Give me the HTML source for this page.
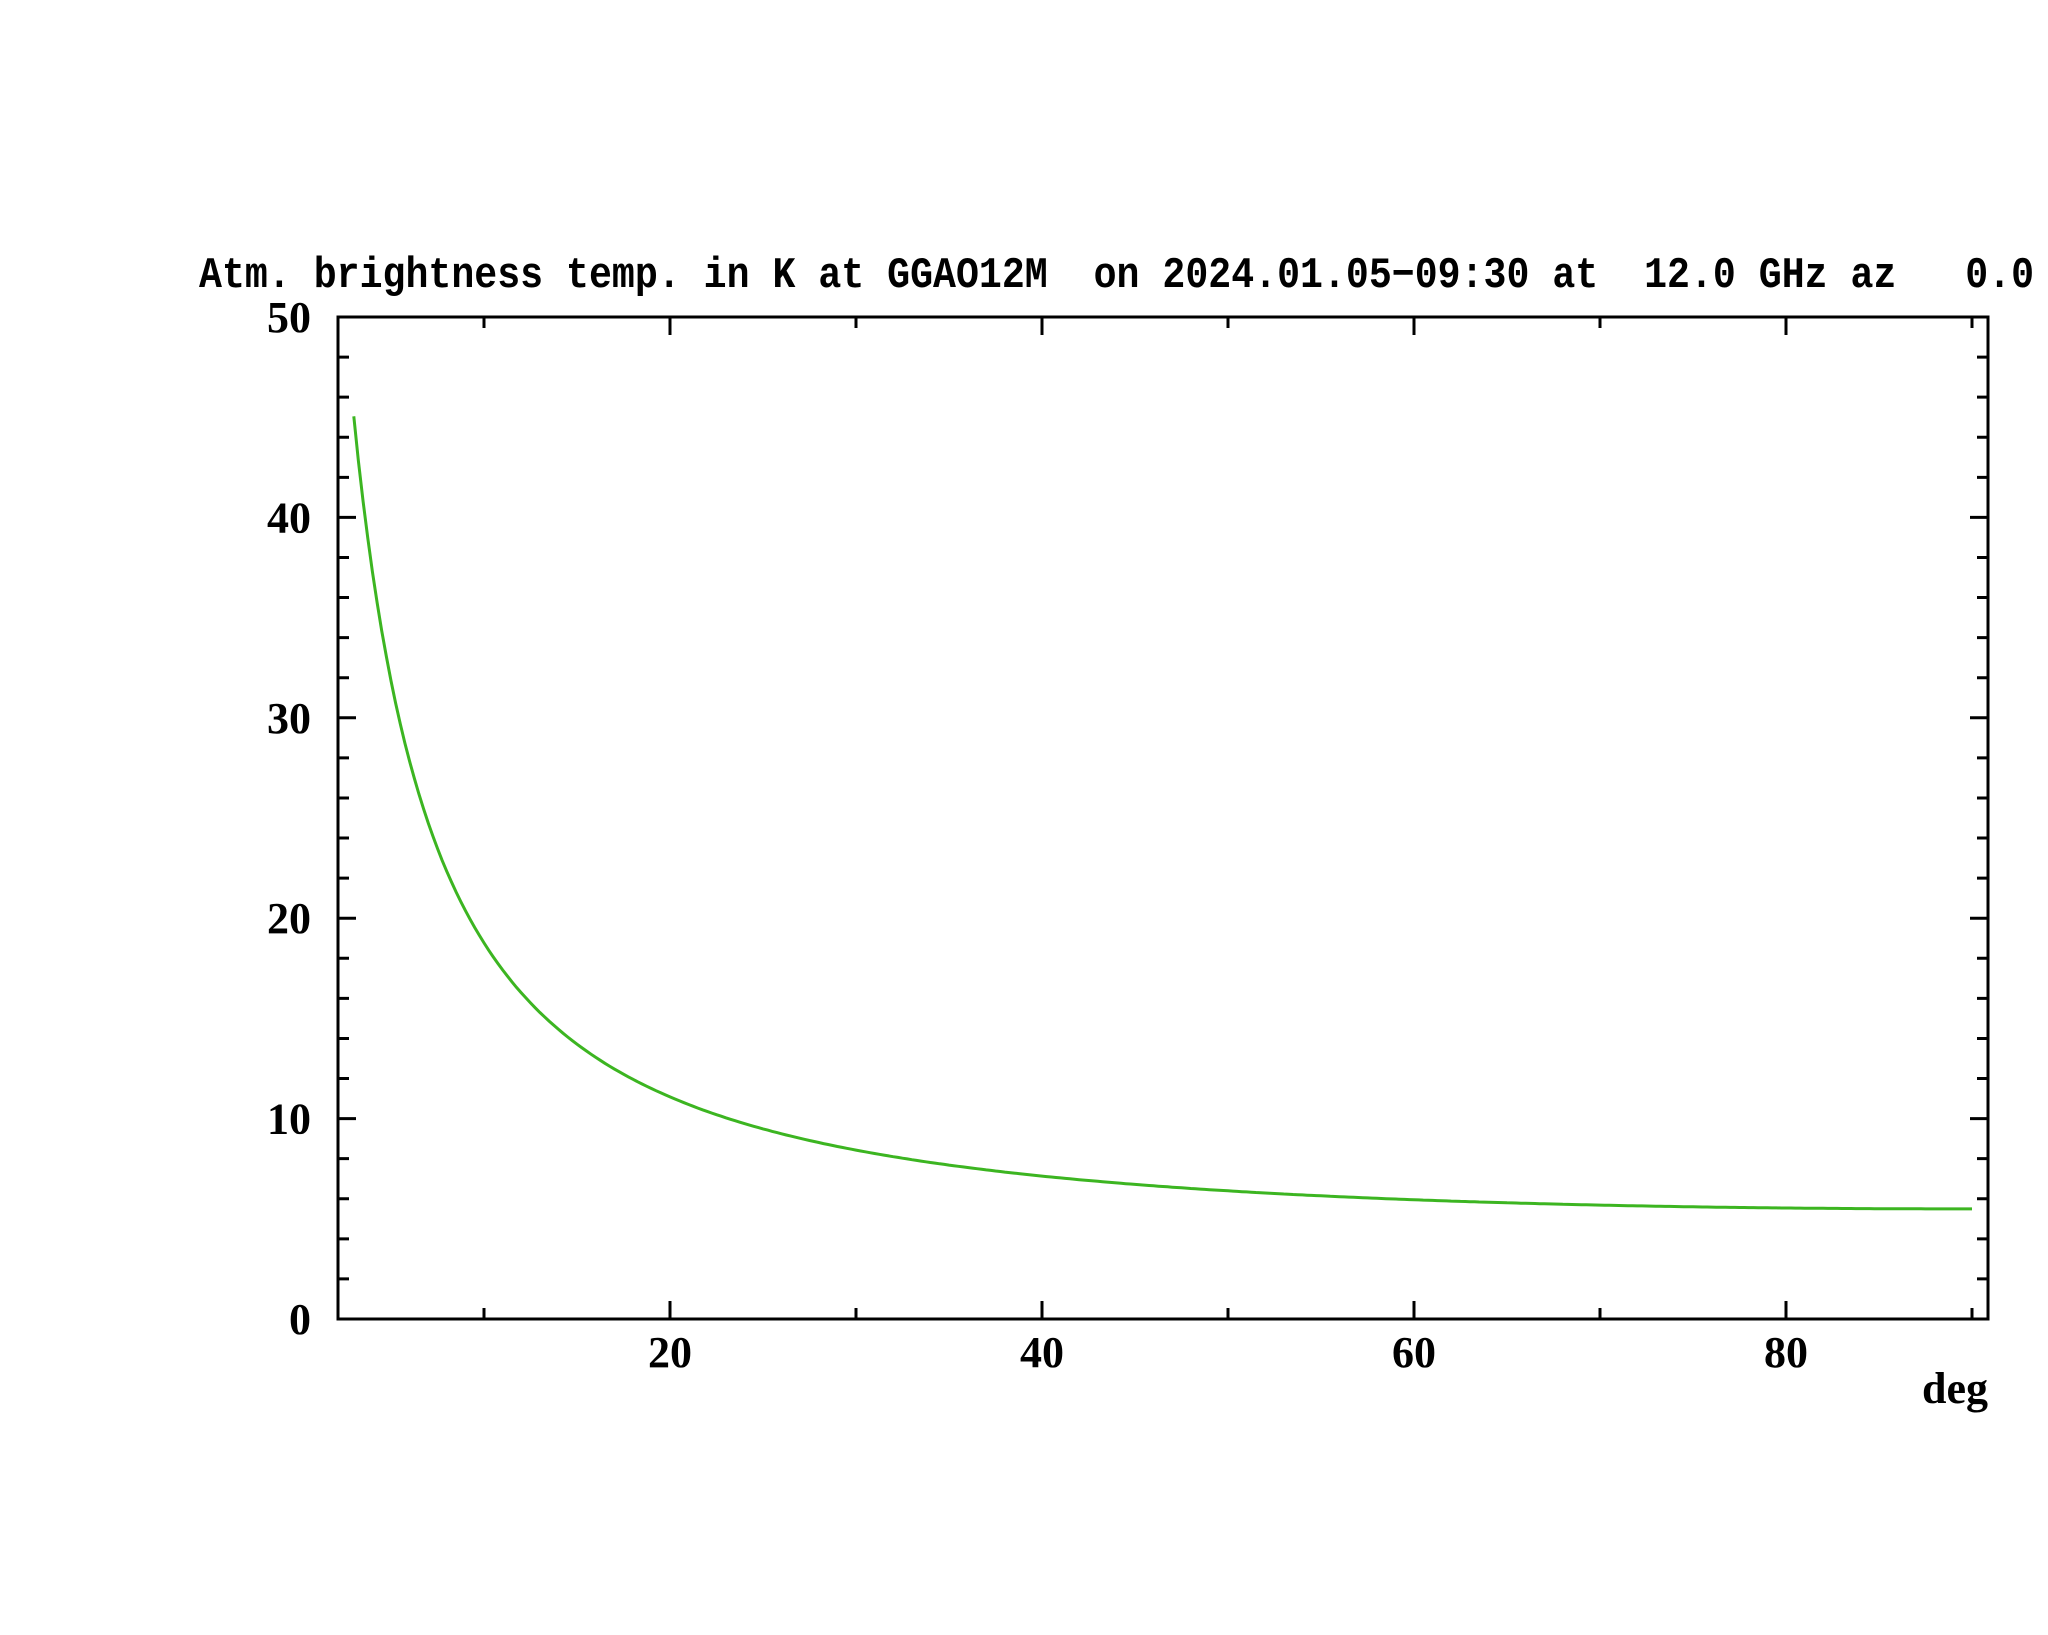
<!DOCTYPE html>
<html><head><meta charset="utf-8"><style>html,body{margin:0;padding:0;background:#fff}svg{display:block}</style></head>
<body>
<svg id="s" xmlns="http://www.w3.org/2000/svg" width="2048" height="1635" viewBox="0 0 2048 1635">
<rect width="2048" height="1635" fill="#fff"/>
<text x="199" y="287" font-family="Liberation Mono, monospace" font-size="44" font-weight="bold" xml:space="preserve" textLength="1835" lengthAdjust="spacingAndGlyphs">Atm. brightness temp. in K at GGAO12M  on 2024.01.05−09:30 at  12.0 GHz az   0.0</text>
<g id="ax" stroke="#000" stroke-width="3" fill="none"></g>
<g font-family="Liberation Serif, serif" font-size="44" font-weight="bold" fill="#000" id="lb"></g>
<path id="c" fill="none" stroke="#3cb521" stroke-width="3"/>
</svg>
<script>
var X0=338,X1=1988,Y0=1319,Y1=317;
function px(d){return 298+(d)*18.6}
function py(v){return Y0-(v)*(Y0-Y1)/50}
var ns="http://www.w3.org/2000/svg",ax=document.getElementById('ax'),lb=document.getElementById('lb');
var d="M"+X0+" "+Y1+"H"+X1+"V"+Y0+"H"+X0+"Z";
for(var v=0;v<=50;v+=2){var y=py(v),L=(v%10==0)?18:11;d+="M"+X0+" "+y+"h"+L+"M"+X1+" "+y+"h"+(-L);}
for(var g=10;g<=90;g+=10){var x=px(g),L=(g%20==0)?18:11;d+="M"+x+" "+Y0+"v"+(-L)+"M"+x+" "+Y1+"v"+L;}
var p=document.createElementNS(ns,'path');p.setAttribute('d',d);ax.appendChild(p);
function t(x,y,s,a){var e=document.createElementNS(ns,'text');e.setAttribute('x',x);e.setAttribute('y',y);e.setAttribute('text-anchor',a);e.textContent=s;lb.appendChild(e);}
for(var v=0;v<=50;v+=10)t(311,py(v)+15,v,'end');
for(var g=20;g<=80;g+=20)t(px(g),1367,g,'middle');
t(1988,1403,'deg','end');
var s="";
for(var e=3;e<=90.05;e+=0.25){var r=e*Math.PI/180,sn=Math.sin(r);var X=1/(sn+0.015*Math.exp(-11*sn));var T=2.5+155*(1-Math.exp(-0.0195*X));s+=(s?"L":"M")+px(e).toFixed(1)+" "+py(T).toFixed(1);}
document.getElementById('c').setAttribute('d',s);
</script>
</body></html>
